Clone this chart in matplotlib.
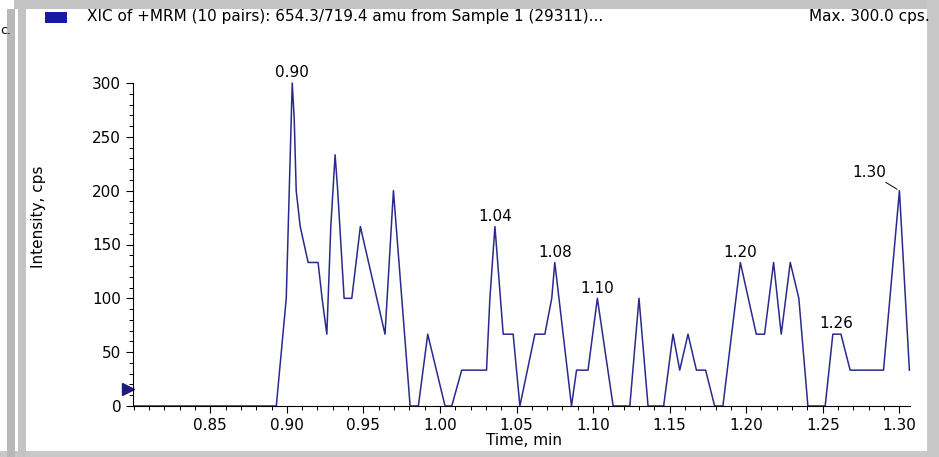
import numpy as np
import matplotlib.pyplot as plt
from matplotlib.patches import Rectangle
from matplotlib.ticker import MultipleLocator, FormatStrFormatter

# XIC trace vertices (time in min, intensity in cps)
time_min = [0.800, 0.8931, 0.8996, 0.9035, 0.9048, 0.9061, 0.9087, 0.9139,
            0.9204, 0.9230, 0.9261, 0.9287, 0.9315, 0.9332, 0.9374, 0.9424,
            0.9452, 0.9480, 0.9641, 0.9696, 0.9805, 0.9859, 0.9920, 1.0033,
            1.0077, 1.0142, 1.0304, 1.0326, 1.0359, 1.0413, 1.0478, 1.0522,
            1.0620, 1.0685, 1.0730, 1.0750, 1.0859, 1.0892, 1.0967, 1.1028,
            1.1131, 1.1240, 1.1300, 1.1359, 1.1461, 1.1522, 1.1566, 1.1620,
            1.1675, 1.1735, 1.1794, 1.1848, 1.1962, 1.2066, 1.2120, 1.2179,
            1.2229, 1.2288, 1.2344, 1.2403, 1.2516, 1.2566, 1.2619, 1.2679,
            1.2897, 1.3001, 1.3066]
intensity = [0, 0, 100, 300, 266.7, 200, 166.7, 133.3,
             133.3, 100, 66.7, 166.7, 233.3, 200, 100, 100,
             133.3, 166.7, 66.7, 200, 0, 0, 66.7, 0,
             0, 33.3, 33.3, 100, 166.7, 66.7, 66.7, 0,
             66.7, 66.7, 100, 133.3, 0, 33.3, 33.3, 100,
             0, 0, 100, 0, 0, 66.7, 33.3, 66.7,
             33.3, 33.3, 0, 0, 133.3, 66.7, 66.7, 133.3,
             66.7, 133.3, 100, 0, 0, 66.7, 66.7, 33.3,
             33.3, 200, 33.3]

# labelled apexes
peak_times = [0.9035, 1.0359, 1.0750, 1.1028, 1.1962, 1.2590, 1.3001]
peak_vals = [300, 166.7, 133.3, 100, 133.3, 66.7, 200]
peak_labels = ["0.90", "1.04", "1.08", "1.10", "1.20", "1.26", "1.30"]

W, H = 939, 457
FS = 11
fig = plt.figure(figsize=(W / 100, H / 100), dpi=100)
fig.patch.set_facecolor("white")

# window chrome
def px_rect(x0, y0, x1, y1, color):
    fig.patches.append(Rectangle((x0 / W, 1 - y1 / H), (x1 - x0) / W, (y1 - y0) / H,
                                 transform=fig.transFigure, facecolor=color,
                                 edgecolor="none", zorder=0))

px_rect(14, 0, 939, 9, "#c4c4c4")
px_rect(927, 0, 939, 457, "#c8c8c8")
px_rect(0, 451, 939, 457, "#c8c8c8")
px_rect(7, 9, 15, 457, "#b8b8b8")
px_rect(18, 9, 26, 457, "#c4c4c4")
px_rect(45, 12, 67, 23, "#1818a8")

fig.text(0, 1 - 30 / H, "c.", fontsize=9, va="center", ha="left")
fig.text(87 / W, 1 - 16 / H,
         "XIC of +MRM (10 pairs): 654.3/719.4 amu from Sample 1 (29311)...",
         fontsize=FS, va="center", ha="left")
fig.text(930 / W, 1 - 16 / H, "Max. 300.0 cps.", fontsize=FS, va="center", ha="right")

ax = fig.add_axes([133 / W, 1 - 406 / H, (910 - 133) / W, (406 - 83) / H])
ax.plot(time_min, intensity, color="#2a2a8c", lw=1.1, clip_on=False)

for t, v, s in zip(peak_times, peak_vals, peak_labels):
    if s == "1.30":
        ax.annotate(s, (t, v), xytext=(-22, 8), textcoords="offset points",
                    ha="center", va="bottom", fontsize=FS,
                    arrowprops=dict(arrowstyle="-", lw=0.7, color="black",
                                    shrinkA=0, shrinkB=2))
    else:
        ax.annotate(s, (t, v), xytext=(0, 2), textcoords="offset points",
                    ha="center", va="bottom", fontsize=FS)

# little triangle marker left of the y axis
ax.plot([-0.006], [16], marker=">", color="#1c1c80", markersize=8,
        transform=ax.get_yaxis_transform(), clip_on=False)

ax.set_xlim(0.7995, 1.307)
ax.set_ylim(0, 300)
ax.xaxis.set_major_locator(MultipleLocator(0.05))
ax.xaxis.set_minor_locator(MultipleLocator(0.01))
ax.xaxis.set_major_formatter(FormatStrFormatter("%.2f"))
ax.yaxis.set_major_locator(MultipleLocator(50))
ax.yaxis.set_minor_locator(MultipleLocator(10))
ax.set_xticks(np.arange(0.85, 1.31, 0.05))
ax.tick_params(which="major", length=5, width=0.8, labelsize=FS)
ax.tick_params(which="minor", length=3, width=0.7)
for side in ["top", "right"]:
    ax.spines[side].set_visible(False)
ax.spines["left"].set_linewidth(0.8)
ax.spines["bottom"].set_linewidth(0.8)

ax.set_xlabel("Time, min", fontsize=FS)
ax.xaxis.set_label_coords(0.503, -0.085)
ax.set_ylabel("Intensity, cps", fontsize=FS)
ax.yaxis.set_label_coords((46 - 133) / 777, 0.585)

fig.savefig("out.png", dpi=100)
